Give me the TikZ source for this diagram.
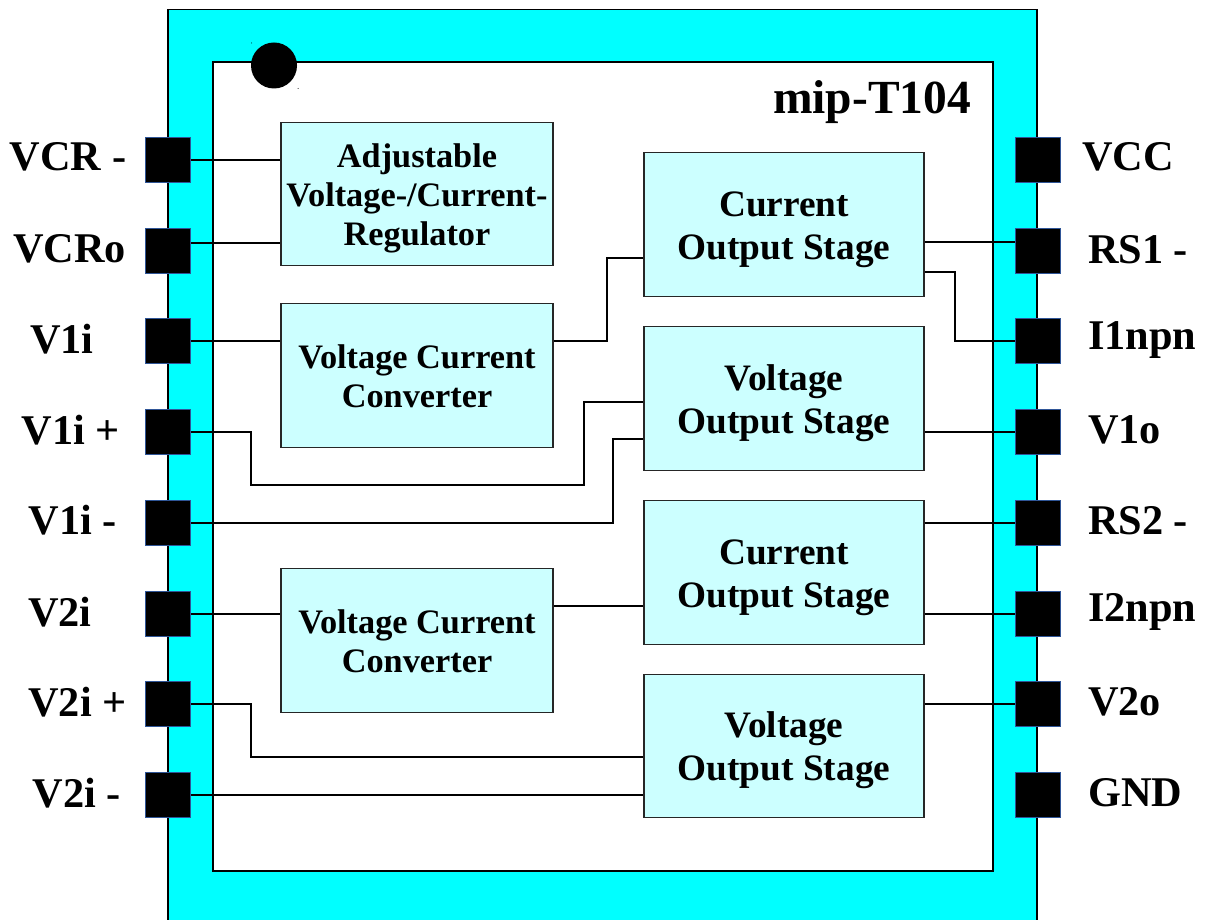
\documentclass[tikz,border=0pt]{standalone}
\usepackage{fontspec}
\setmainfont{Liberation Serif}
\definecolor{chipcyan}{HTML}{00FFFF}
\definecolor{boxcyan}{HTML}{CCFFFF}
\definecolor{pinedge}{HTML}{2F5597}
\newcommand{\textdrop}[1]{\rule{0pt}{#1}}
\tikzset{
  block/.style={draw=black!85, line width=1.4pt, fill=boxcyan, inner sep=0pt, align=center, font=\bfseries},
  regbox/.style={block, minimum width=272pt, minimum height=143.5pt, font=\fontsize{34.3}{39}\selectfont\bfseries},
  stagebox/.style={block, minimum width=280pt, minimum height=143.5pt, font=\fontsize{37.3}{43}\selectfont\bfseries},
  pin/.style={draw=pinedge, line width=0.8pt, fill=black, inner sep=0pt, minimum width=45pt, minimum height=45pt},
  pinlabel/.style={inner sep=0pt, font=\fontsize{42.3}{48}\selectfont\bfseries},
  wire/.style={line width=1.7pt, black}
}
\begin{document}
\begin{tikzpicture}[x=1pt,y=-1pt]
\useasboundingbox (0,0) rectangle (1207,920);
\clip (0,0) rectangle (1207,920);

% chip body
\draw [fill=chipcyan, line width=1.5pt] (168,9.5) rectangle (1037,940);
\draw [fill=white, line width=1.5pt] (213,62) rectangle (993,871);

% pin one mark
\node [circle, fill=black, inner sep=0pt, minimum size=46pt] (mark) at (274,65.5){};
\fill (251.5,43) circle (0.5pt);
\fill (298,88.5) circle (0.5pt);
\node [font=\fontsize{47.5}{50}\selectfont\bfseries, inner sep=0pt] (title) at (872,102){mip-T104};

% left pins
\node [pin] (VCRm) at (168,160){};
\node [pin] (VCRo) at (168,251){};
\node [pin] (Vai) at (168,341){};
\node [pin] (Vaip) at (168,432){};
\node [pin] (Vaim) at (168,523){};
\node [pin] (Vbi) at (168,614){};
\node [pin] (Vbip) at (168,704){};
\node [pin] (Vbim) at (168,795){};

% right pins
\node [pin] (VCC) at (1037.5,160){};
\node [pin] (RSa) at (1037.5,251){};
\node [pin] (Ianpn) at (1037.5,341){};
\node [pin] (Vao) at (1037.5,432){};
\node [pin] (RSb) at (1037.5,523){};
\node [pin] (Ibnpn) at (1037.5,614){};
\node [pin] (Vbo) at (1037.5,704){};
\node [pin] (GND) at (1037.5,795){};

% left labels
\node [pinlabel] (lVCRm) at (68,157){VCR -};
\node [pinlabel] (lVCRo) at (69.5,249){VCRo};
\node [pinlabel] (lVai) at (62,339){V1i};
\node [pinlabel] (lVaip) at (71,430){V1i +};
\node [pinlabel] (lVaim) at (73,520){V1i -};
\node [pinlabel] (lVbi) at (60,612){V2i};
\node [pinlabel] (lVbip) at (77.5,702){V2i +};
\node [pinlabel] (lVbim) at (77,793){V2i -};

% right labels
\node [pinlabel, anchor=west] (lVCC) at (1082,157){VCC};
\node [pinlabel, anchor=west] (lRSa) at (1088,250){RS1 -};
\node [pinlabel, anchor=west] (lIanpn) at (1088,340){I1npn};
\node [pinlabel, anchor=west] (lVao) at (1088,430){V1o};
\node [pinlabel, anchor=west] (lRSb) at (1088,521){RS2 -};
\node [pinlabel, anchor=west] (lIbnpn) at (1088,612){I2npn};
\node [pinlabel, anchor=west] (lVbo) at (1088,702){V2o};
\node [pinlabel, anchor=west] (lGND) at (1088,793){GND};

% function blocks
\node [regbox] (reg) at (417,194){\textdrop{32pt}Adjustable\\Voltage-/Current-\\Regulator};
\node [regbox] (conva) at (417,375.5){\textdrop{26pt}Voltage Current\\Converter};
\node [regbox] (convb) at (417,640.5){\textdrop{26pt}Voltage Current\\Converter};
\node [stagebox] (curra) at (784,224.5){\textdrop{35pt}Current\\Output Stage};
\node [stagebox] (volta) at (784,398.5){\textdrop{35pt}Voltage\\Output Stage};
\node [stagebox] (currb) at (784,572.5){\textdrop{35pt}Current\\Output Stage};
\node [stagebox] (voltb) at (784,746){\textdrop{35pt}Voltage\\Output Stage};

% wires on the left
\draw [wire] (VCRm.east) -- (VCRm.east -| reg.west);
\draw [wire] ([yshift=8pt]VCRo.east) -- ([yshift=8pt]VCRo.east -| reg.west);
\draw [wire] (Vai.east) -- (Vai.east -| conva.west);
\draw [wire] (Vbi.east) -- (Vbi.east -| convb.west);
\draw [wire] (Vaip.east) -- (251,432) -- (251,485) -- (584,485) -- (584,402) -- (584,402 -| volta.west);
\draw [wire] (Vaim.east) -- (613,523) -- (613,439) -- (613,439 -| volta.west);
\draw [wire] (Vbip.east) -- (251,704) -- (251,757) -- (251,757 -| voltb.west);
\draw [wire] (Vbim.east) -- (Vbim.east -| voltb.west);

% wires between the blocks
\draw [wire] (conva.east |- Vai.east) -- (607,341) -- (607,258) -- (607,258 -| curra.west);
\draw [wire] (convb.east |- 0,606) -- (currb.west |- 0,606);

% wires on the right
\draw [wire] (curra.east |- 0,242) -- (RSa.west |- 0,242);
\draw [wire] (curra.east |- 0,272) -- (955,272) -- (955,341) -- (Ianpn.west);
\draw [wire] (volta.east |- Vao.west) -- (Vao.west);
\draw [wire] (currb.east |- RSb.west) -- (RSb.west);
\draw [wire] (currb.east |- Ibnpn.west) -- (Ibnpn.west);
\draw [wire] (voltb.east |- Vbo.west) -- (Vbo.west);
\end{tikzpicture}
\end{document}
